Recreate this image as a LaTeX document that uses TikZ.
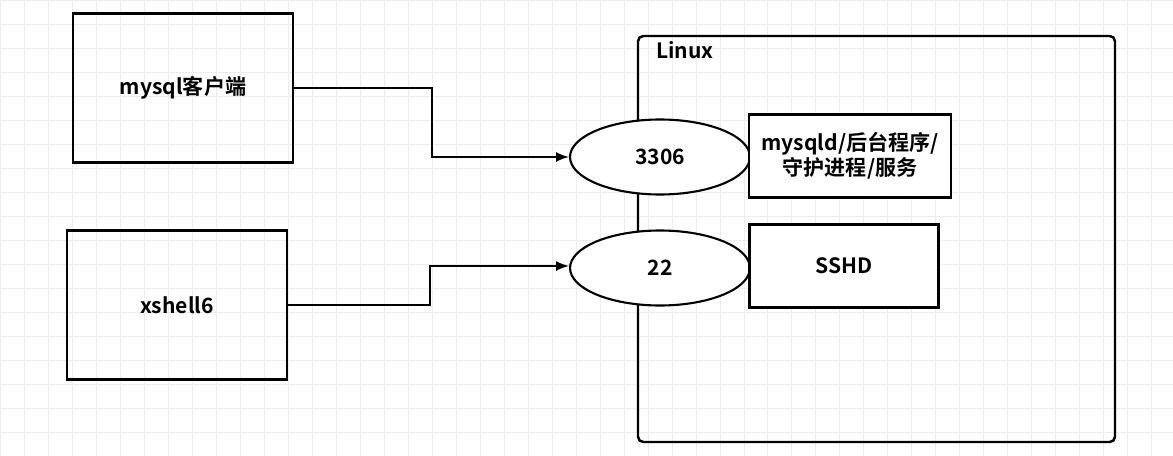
\documentclass[tikz,border=0pt]{standalone}
\usepackage{fontspec}
\setmainfont{Noto Sans CJK SC}[BoldFont={* Bold}]
\usetikzlibrary{shapes.geometric}
\tikzset{
  box/.style={draw,line width=1.2pt,minimum width=4.4cm,minimum height=2.98cm,font=\bfseries\large},
  proc/.style={draw,fill=white,line width=1.2pt,text width=3.8cm,align=center,font=\bfseries\large},
  port/.style={draw,fill=white,ellipse,line width=1.2pt,minimum width=3.6cm,minimum height=1.5cm,font=\bfseries\large},
  link/.style={->,>=latex,line width=1.5pt}
}
\begin{document}
\begin{tikzpicture}[x=0.02cm,y=-0.02cm]
%%%%% Background %%%%%
\useasboundingbox (0,0) rectangle (1173,456);
\fill[white] (0,0) rectangle (1173,456);
\draw[color=gray!15,step=0.48cm] (0,-0.5) grid (1173,456);
%%%%% Linux %%%%%
\draw[line width=1.4pt,rounded corners=3pt] (638,36) rectangle (1115,442);
\node[anchor=west,font=\bfseries\large] (linux) at (650,50) {Linux};
\node[box] (client) at (183,88) {mysql客户端};
\node[box] (xshell) at (177,305) {xshell6};
\node[port] (p3306) at (660,157) {3306};
\node[port] (p22) at (660,268) {22};
\node[proc,minimum width=4.02cm,minimum height=1.66cm] (mysqld) at (850,156) {mysqld/后台程序/\\守护进程/服务};
\node[proc,minimum width=3.78cm,minimum height=1.66cm,text width=3.4cm] (sshd) at (844,266) {SSHD};
%%%%% Links %%%%%
\draw[link] (client.east) -- (432,88) -- (432,157) -- (p3306.west);
\draw[link] (xshell.east) -- (430,305) -- (430,266) -- (p22.west |- 0,266);
\end{tikzpicture}
\end{document}
